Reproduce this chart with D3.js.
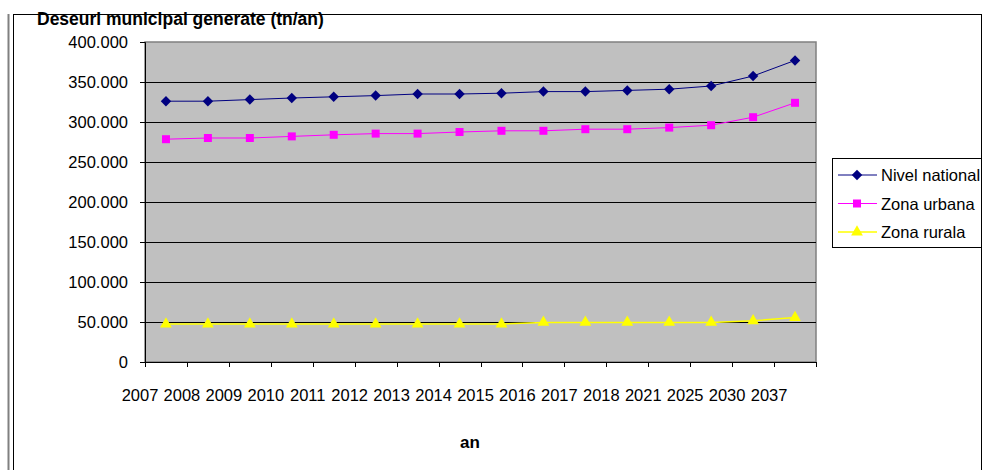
<!DOCTYPE html>
<html>
<head>
<meta charset="utf-8">
<script src="https://cdn.jsdelivr.net/npm/d3@7"></script>
<style>
  html, body { margin: 0; padding: 0; background: #fff; }
  svg { display: block; font-family: "Liberation Sans", Arial, sans-serif; }
</style>
</head>
<body>
<svg id="chart" width="985" height="470"></svg>
<script>
// Categories (years) on the horizontal axis
const years = ["2007","2008","2009","2010","2011","2012","2013","2014",
               "2015","2016","2017","2018","2021","2025","2030","2037"];

// Municipal waste generated, tonnes per year
const nivelNational = [326000, 326000, 328000, 330000, 331500, 333000, 335000, 335000,
                       336000, 338000, 338000, 339500, 341000, 345000, 357500, 377000];
const zonaUrbana    = [278500, 280000, 280000, 282000, 284000, 285500, 285500, 287500,
                       289000, 289000, 291000, 291000, 293000, 296000, 306000, 324000];
const zonaRurala    = [47500, 47500, 47500, 47500, 47500, 47500, 47500, 47500,
                       47500, 49500, 49500, 49500, 49500, 49500, 51500, 55500];

const yTicks = [0, 50000, 100000, 150000, 200000, 250000, 300000, 350000, 400000];

const seriesNames = ["Nivel national", "Zona urbana", "Zona rurala"];

const series = [
  { name: seriesNames[0], values: nivelNational, color: "#000080", marker: d3.symbolDiamond2, size: 70, width: 1 },
  { name: seriesNames[1], values: zonaUrbana,    color: "#FF00FF", marker: d3.symbolSquare,   size: 64, width: 1 },
  { name: seriesNames[2], values: zonaRurala,    color: "#FFFF00", marker: d3.symbolTriangle, size: 60, width: 1.5 }
];

const svg = d3.select("#chart");
const fontSize = 16.5;

const plot = { left: 145, right: 816, top: 42, bottom: 362 };

const x = d3.scaleBand().domain(years).range([plot.left, plot.right]);
const y = d3.scaleLinear().domain([0, 400000]).range([plot.bottom, plot.top]);

const locale = d3.formatLocale({ decimal: ",", thousands: ".", grouping: [3], currency: ["", ""] });
const fmt = locale.format(",");

// Chart frame
svg.append("line").attr("x1", 8.5).attr("x2", 8.5).attr("y1", 14).attr("y2", 470)
  .attr("stroke", "#808080").attr("stroke-width", 2);
svg.append("rect").attr("x", 13.5).attr("y", 14.5).attr("width", 968).attr("height", 470)
  .attr("fill", "#fff").attr("stroke", "#000").attr("stroke-width", 1);

const clip = svg.append("clipPath").attr("id", "frameClip")
  .append("rect").attr("x", 14).attr("y", 15).attr("width", 967).attr("height", 460);

// Plot background
svg.append("rect")
  .attr("x", plot.left).attr("y", plot.top)
  .attr("width", plot.right - plot.left).attr("height", plot.bottom - plot.top)
  .attr("fill", "#C0C0C0").attr("stroke", "#808080").attr("stroke-width", 1.5);

// Horizontal gridlines
svg.append("g").selectAll("line").data(yTicks.filter(d => d > 0 && d < 400000)).join("line")
  .attr("x1", plot.left).attr("x2", plot.right)
  .attr("y1", d => Math.round(y(d)) + 0.5).attr("y2", d => Math.round(y(d)) + 0.5)
  .attr("stroke", "#000").attr("stroke-width", 1);

// Y axis
const yAxis = svg.append("g")
  .attr("transform", `translate(${plot.left},0)`)
  .call(d3.axisLeft(y).tickValues(yTicks).tickFormat(fmt).tickSize(5).tickPadding(12));
yAxis.select(".domain").attr("stroke", "#000");
yAxis.selectAll(".tick line").attr("stroke", "#000");
yAxis.selectAll("text").attr("font-size", fontSize).attr("fill", "#000")
  .attr("font-family", "Liberation Sans, Arial, sans-serif");

// X axis: ticks on the category boundaries
const xAxis = svg.append("g");
xAxis.append("line").attr("x1", plot.left).attr("x2", plot.right)
  .attr("y1", plot.bottom + 0.5).attr("y2", plot.bottom + 0.5).attr("stroke", "#000");
const boundaries = years.map(d => x(d)).concat([x.range()[1]]);
xAxis.selectAll("line.tick").data(boundaries).join("line").attr("class", "tick")
  .attr("x1", d => Math.round(d) + 0.5).attr("x2", d => Math.round(d) + 0.5)
  .attr("y1", plot.bottom).attr("y2", plot.bottom + 5).attr("stroke", "#000");
xAxis.selectAll("text").data(years).join("text")
  .attr("x", d => x(d) - 5).attr("y", 401)
  .attr("text-anchor", "middle").attr("font-size", fontSize).attr("fill", "#000")
  .text(d => d);

// Series lines and markers
const line = d3.line().x((d, i) => x(years[i]) + x.bandwidth() / 2).y(d => y(d));
series.forEach(s => {
  const g = svg.append("g");
  g.append("path").datum(s.values).attr("d", line)
    .attr("fill", "none").attr("stroke", s.color).attr("stroke-width", s.width);
  g.selectAll("path.m").data(s.values).join("path").attr("class", "m")
    .attr("transform", (d, i) => `translate(${x(years[i]) + x.bandwidth() / 2},${y(d)})`)
    .attr("d", d3.symbol().type(s.marker).size(s.size))
    .attr("fill", s.color);
});

// Titles
svg.append("text").attr("x", 37).attr("y", 25)
  .attr("font-size", 17.5).attr("font-weight", "bold").attr("fill", "#000")
  .text("Deseuri municipal generate (tn/an)");
svg.append("text").attr("x", 470).attr("y", 448).attr("text-anchor", "middle")
  .attr("font-size", 17).attr("font-weight", "bold").attr("fill", "#000")
  .text("an");

// Legend
const legend = svg.append("g").attr("clip-path", "url(#frameClip)");
legend.append("rect").attr("x", 832.5).attr("y", 158.5).attr("width", 160).attr("height", 89)
  .attr("fill", "#fff").attr("stroke", "#000");
series.forEach((s, i) => {
  const cy = 175 + i * 28.5;
  legend.append("line").attr("x1", 838).attr("x2", 877).attr("y1", cy).attr("y2", cy)
    .attr("stroke", s.color).attr("stroke-width", s.width);
  legend.append("path").attr("transform", `translate(857,${cy})`)
    .attr("d", d3.symbol().type(s.marker).size(s.size)).attr("fill", s.color);
  legend.append("text").attr("x", 881).attr("y", cy + 6)
    .attr("font-size", fontSize).attr("fill", "#000").text(s.name);
});
</script>
</body>
</html>
